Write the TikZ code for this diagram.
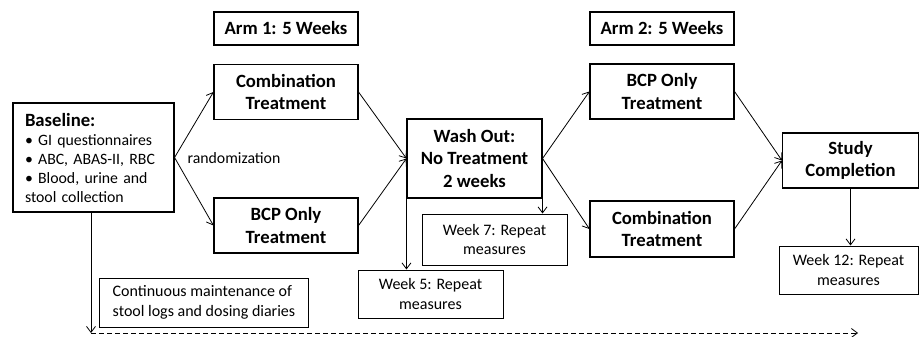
\documentclass[tikz,border=0pt]{standalone}
\usepackage{fontspec}
\setmainfont{Carlito}
\usetikzlibrary{arrows.meta,positioning,calc}
\tikzset{
	stage/.style={draw,line width=1.1pt,align=center,inner sep=0pt,
		font=\fontsize{18.7}{22.5}\selectfont\bfseries},
	note/.style={draw,line width=1pt,align=center,inner sep=0pt,
		font=\fontsize{16}{19.5}\selectfont},
	arr/.style={line width=.8pt,-{Straight Barb[length=6pt,width=9pt,line width=.8pt]}},
	wd/.style={minimum width=144pt}
}
\begin{document}
\begin{tikzpicture}[x=1pt,y=-1pt]
   \useasboundingbox (0,0) rectangle (919,337);
   % arms
   \node[stage,wd,minimum height=33pt] (arm1) at (286,28.5) {Arm 1: 5 Weeks};
   \node[stage,wd,minimum height=33pt] (arm2) at (662,28.5) {Arm 2: 5 Weeks};
   % first arm
   \node[stage,wd,minimum height=55pt] (combA) at (286,92) {Combination\\Treatment};
   \node[stage,wd,minimum height=55pt] (bcpA) at (286,225.5) {BCP Only\\Treatment};
   \node[draw,line width=1.1pt,align=left,text width=137pt,inner xsep=12pt,inner ysep=0pt,
      minimum height=109pt,font=\fontsize{15.8}{19}\selectfont] (base) at (93.5,157.5)
      {{\fontsize{18.7}{23}\selectfont\bfseries Baseline:}\\
       \textbullet{} GI questionnaires\\
       \textbullet{} ABC, ABAS-II, RBC\\
       \textbullet{} Blood, urine and\\
       stool collection};
   \node[font=\fontsize{15.8}{19}\selectfont,inner sep=0pt] (rand) at (234,158) {randomization};
   % wash out
   \node[stage,minimum width=135pt,minimum height=79pt] (wash) at (474.5,158.5)
      {Wash Out:\\No Treatment\\2 weeks};
   \node[note,minimum width=145pt,minimum height=51pt] (wk7) at (494.5,239.5) {Week 7: Repeat\\measures};
   \node[note,minimum width=145pt,minimum height=48pt] (wk5) at (430.5,294) {Week 5: Repeat\\measures};
   % second arm
   \node[stage,wd,minimum height=55pt] (bcpB) at (662,91.5) {BCP Only\\Treatment};
   \node[stage,wd,minimum height=56pt] (combB) at (662,229) {Combination\\Treatment};
   \node[stage,minimum width=136pt,minimum height=55pt] (study) at (850.5,160.5) {Study\\Completion};
   \node[note,minimum width=139pt,minimum height=48pt] (wk12) at (848.5,270) {Week 12: Repeat\\measures};
   % continuous
   \node[note,align=left,minimum width=209pt,minimum height=49pt,inner xsep=8pt,anchor=west] (cont)
      at (99,302.5) {Continuous maintenance of\\stool logs and dosing diaries};
   \coordinate (tl) at (91,333);
   \coordinate (tr) at (858,333);
   % connectors
   \draw[arr] (base.east) -- (combA.west);
   \draw[arr] (base.east) -- (bcpA.west);
   \draw[arr] (combA.east) -- (wash.west);
   \draw[arr] (bcpA.east) -- (wash.west);
   \draw[arr] (wash.east) -- (bcpB.west);
   \draw[arr] (wash.east) -- (combB.west);
   \draw[arr] (bcpB.east) -- (study.west);
   \draw[arr] (combB.east) -- (study.west);
   \draw[arr] (wash.south west) -- (wash.south west |- wk5.north);
   \draw[arr] (wash.south east) -- (wash.south east |- wk7.north);
   \draw[arr] (study.south) -- (study.south |- wk12.north);
   \draw[arr] (base.south -| tl) -- (tl);
   \draw[arr,dash pattern=on 5pt off 3pt] (tl) -- (tr);
\end{tikzpicture}
\end{document}
